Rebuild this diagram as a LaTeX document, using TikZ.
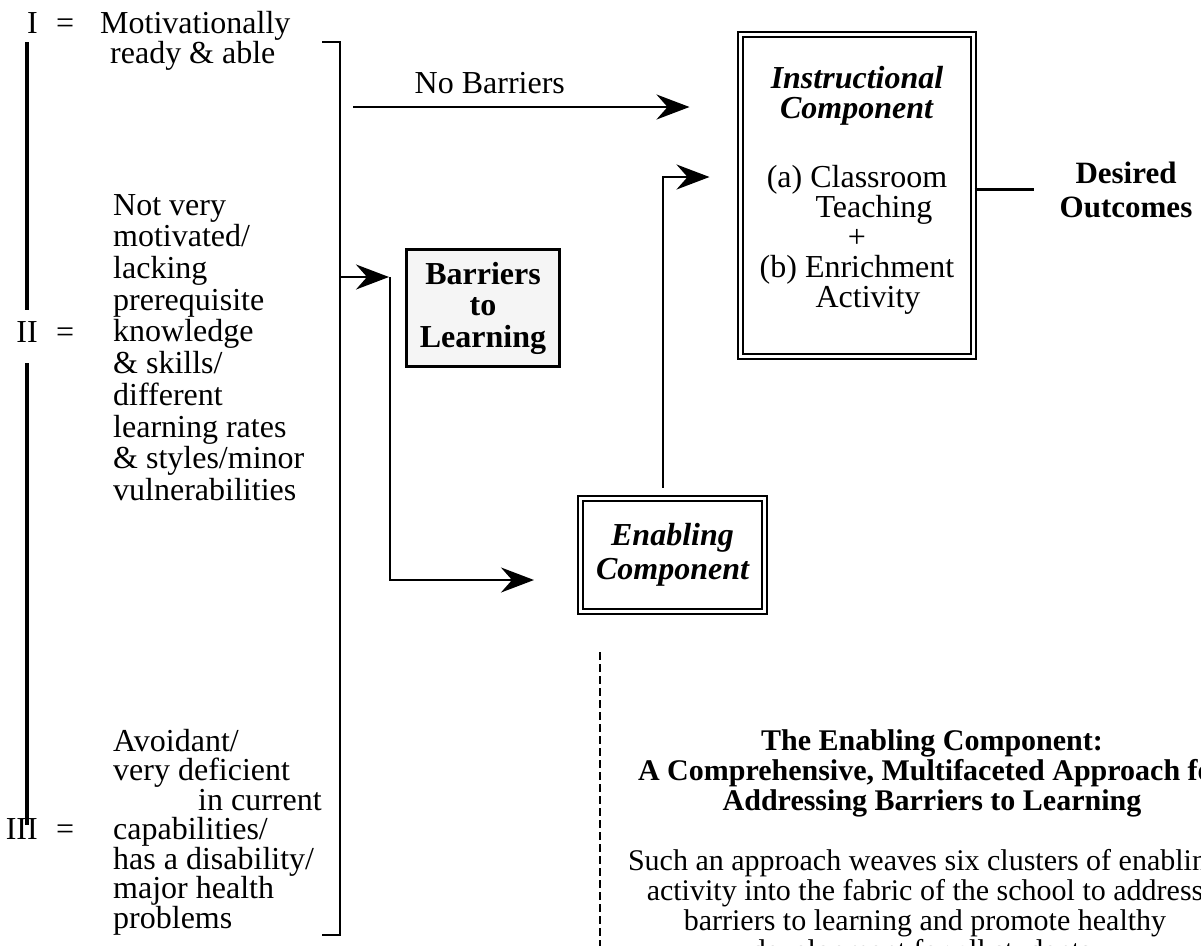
\documentclass[tikz,border=0pt]{standalone}
\usepackage{fontspec}
\setmainfont{Liberation Serif}
\usetikzlibrary{arrows.meta, positioning, calc}
\tikzset{
	txt/.style={
		inner sep=0pt,
		font=\fontsize{32}{30}\selectfont
	},
	plainbox/.style={
		draw,
		line width=2.6pt,
		inner sep=0pt,
		align=center
	},
	dblbox/.style={
		draw,
		double,
		double distance=3pt,
		line width=2pt,
		inner sep=0pt,
		align=center
	},
	flow/.style={
		line width=2.2pt,
		-{Stealth[length=33pt, width=25pt, inset=11pt]}
	}
}

\begin{document}
\begin{tikzpicture}[x=1pt, y=-1pt]
	\useasboundingbox (0,0) rectangle (1201,945);
	\clip (0,0) rectangle (1201,945);

	% group labels
	\coordinate (spine) at (27,0);
	\foreach \grp/\y in {I/33, II/342, III/839.5} {
		\node[txt, anchor=base east] (num\grp) at (38,\y) {\grp};
		\node[txt, anchor=base west] (eq\grp) at (56,\y) {=};
	}
	\begin{scope}[line width=3.5pt]
	\draw[shorten <=9pt, shorten >=11pt] (numI.south -| spine) -- (numII.north -| spine);
	\draw[shorten <=21pt, shorten >=-7pt] (numII.south -| spine) -- (numIII.north -| spine);
	\end{scope}

	% group descriptions
	\begin{scope}[every node/.style={txt, anchor=north west, align=left}]
	\node[font=\fontsize{32}{28}\selectfont] (grpI) at (100,11) {Motivationally\\\hspace*{10pt}ready \& able};
	\node[font=\fontsize{32}{31.7}\selectfont] (grpII) at (113,194) {Not very\\motivated/\\lacking\\prerequisite\\knowledge\\\& skills/\\different\\learning rates\\\& styles/minor\\vulnerabilities};
	\node[font=\fontsize{32}{29.5}\selectfont] (grpIII) at (113,729) {Avoidant/\\very deficient\\\hspace*{85pt}in current\\capabilities/\\has a disability/\\major health\\problems};
	\end{scope}

	% bracket round the groups
	\draw[line width=2.8pt] (322,42) -- (340,42) -- (340,935) -- (322,935);

	% components
	\node[plainbox, fill=black!4, minimum width=153pt, minimum height=117pt, font=\bfseries\fontsize{32}{31.5}\selectfont] (barrier) at (483,308) {Barriers\\to\\Learning};
	\node[dblbox, minimum width=233pt, minimum height=322pt] (instr) at (857,195.5) {};
	\node[txt, align=center, yshift=5.5pt] (instrtxt) at (instr.center) {\textbf{\textit{Instructional}}\\\textbf{\textit{Component}}\\[39pt](a) Classroom\\\hspace*{34pt}Teaching\\+\\(b) Enrichment\\\hspace*{22pt}Activity};
	\node[dblbox, minimum width=184pt, minimum height=113pt, font=\bfseries\itshape\fontsize{32}{34}\selectfont] (enab) at (672.5,555) {Enabling\\Component};
	\node[txt, align=center, font=\bfseries\fontsize{31}{34}\selectfont] (outcomes) at (1126,189.5) {Desired\\Outcomes};

	% free ends
	\coordinate (nbstart) at (353,107);
	\coordinate (bmid) at (340,277);
	\coordinate (bsplit) at (390,277);
	\coordinate (descend) at (600,960);

	% arrows
	\begin{scope}[flow]
	\draw[shorten >=50pt] (nbstart) -- (instr.west |- nbstart) node[txt, pos=0.354, above=12pt] (nobar) {No Barriers};
	\draw[shorten >=1pt] (bmid) -- (bsplit);
	\draw[shorten >=45.5pt] (bsplit) |- ([yshift=-25pt]enab.west);
	\draw[shorten <=10pt, shorten >=30pt] ([xshift=-9.5pt]enab.north) |- ([yshift=18.5pt]instr.west);
	\end{scope}

	\draw[line width=2.2pt, shorten >=26pt] (instr.east |- outcomes.west) -- (outcomes.west);
	\draw[line width=1.5pt, dash pattern=on 8pt off 4pt, shorten <=39.5pt] (enab.south west -| descend) -- (descend);

	% description of the enabling component
	\node[inner sep=0pt, anchor=north, align=center, font=\bfseries\fontsize{30}{30}\selectfont] (desctitle) at (932,729.5) {The Enabling Component:\\A Comprehensive, Multifaceted Approach for\\Addressing Barriers to Learning};
	\node[inner sep=0pt, anchor=north, align=center, font=\fontsize{30}{30}\selectfont] (desctext) at (925,849.5) {Such an approach weaves six clusters of enabling\\activity into the fabric of the school to address\\barriers to learning and promote healthy\\development for all students.};
\end{tikzpicture}
\end{document}
